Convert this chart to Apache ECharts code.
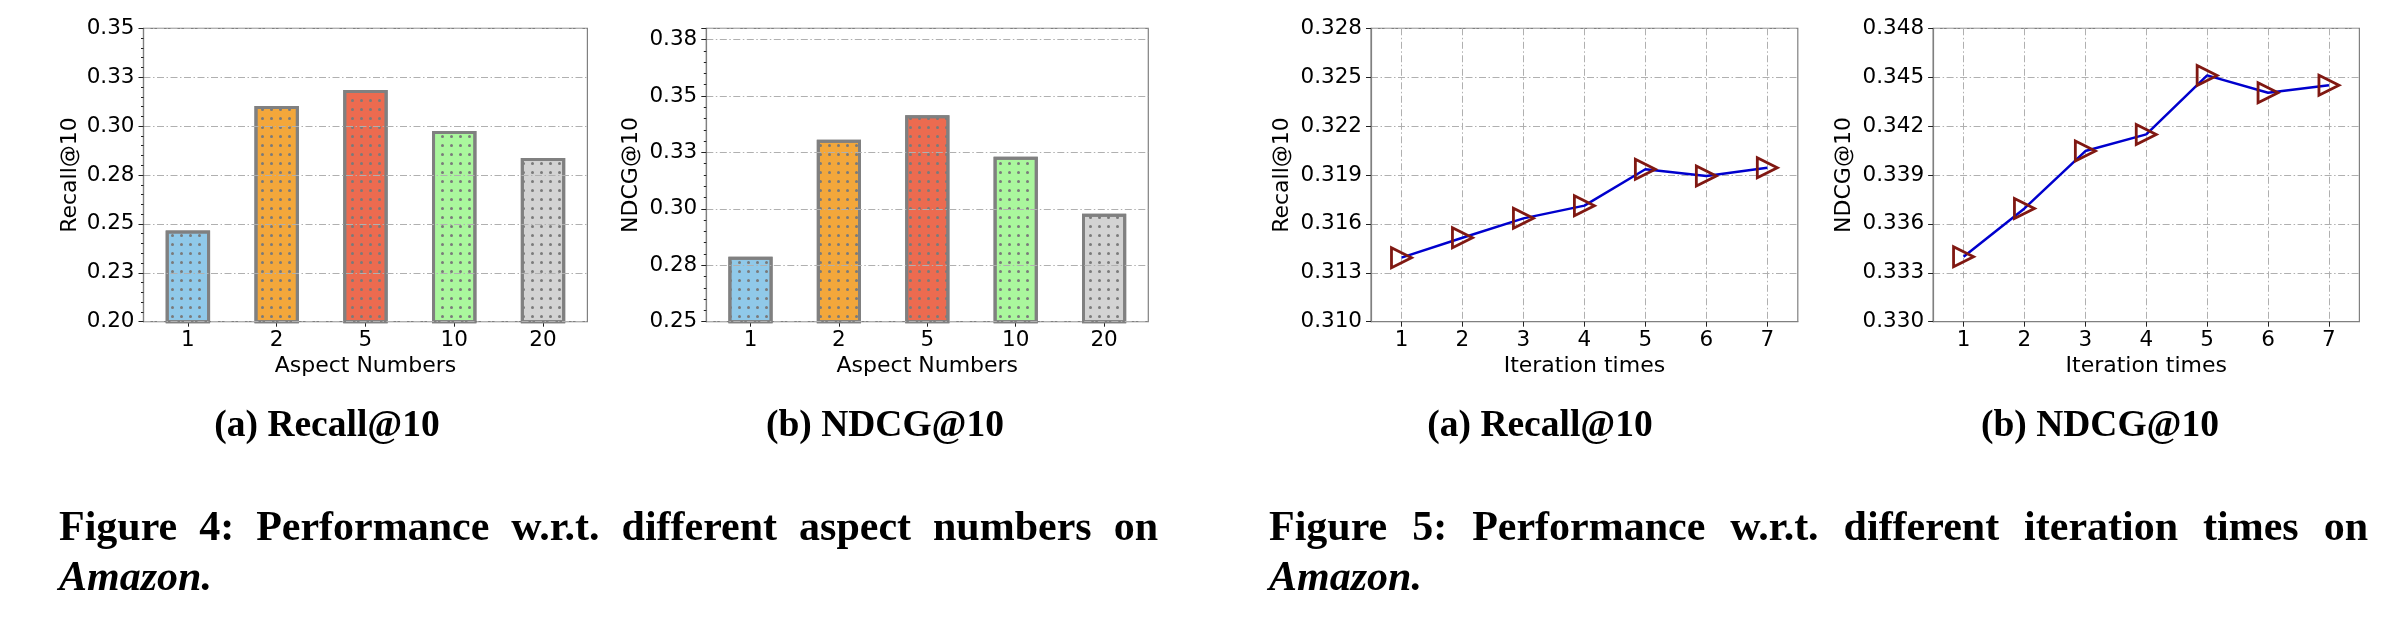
<!DOCTYPE html>
<html>
<head>
<meta charset="utf-8">
<script src="https://cdn.jsdelivr.net/npm/echarts@6/dist/echarts.min.js"></script>
<style>
  html, body { margin: 0; padding: 0; background: #fff; }
  #main { width: 2398px; height: 622px; }
</style>
</head>
<body>
<div id="main"></div>
<script>
// Figure 4: aspect numbers
var aspectNumbers = ['1', '2', '5', '10', '20'];
var aspectRecall = [0.2466, 0.3103, 0.3185, 0.2975, 0.2837];
var aspectNdcg = [0.2788, 0.3306, 0.3415, 0.3231, 0.2978];
var barColors = ['#90c9e9', '#f3a73b', '#ec6b50', '#aaf79d', '#d3d3d3'];

// Figure 5: iteration times
var iterTimes = ['1', '2', '3', '4', '5', '6', '7'];
var iterRecall = [0.31393, 0.31515, 0.31634, 0.31712, 0.31935, 0.31894, 0.31945];
var iterNdcg = [0.33399, 0.33695, 0.34047, 0.34149, 0.34511, 0.34405, 0.34450];

// tick labels (matplotlib rounded them to the shown digits)
var recallBarTicks = ['0.20', '0.23', '0.25', '0.28', '0.30', '0.33', '0.35'];
var ndcgBarTicks = ['0.25', '0.28', '0.30', '0.33', '0.35', '0.38'];
var recallLineTicks = ['0.310', '0.313', '0.316', '0.319', '0.322', '0.325', '0.328'];
var ndcgLineTicks = ['0.330', '0.333', '0.336', '0.339', '0.342', '0.345', '0.348'];

// captions
var subCaptions = ['(a) Recall@10', '(b) NDCG@10', '(a) Recall@10', '(b) NDCG@10'];
var fig4Words = ['Figure', '4:', 'Performance', 'w.r.t.', 'different', 'aspect', 'numbers', 'on'];
var fig5Words = ['Figure', '5:', 'Performance', 'w.r.t.', 'different', 'iteration', 'times', 'on'];
var captionTail = 'Amazon.';

var FONT = 'DejaVu Sans';
var SERIF = '"Liberation Serif", "Times New Roman", serif';
var gridDash = [7, 2.5, 1.5, 2.5];

var chart = echarts.init(document.getElementById('main'));

function tickLabel(labels, min, step) {
  return function (v) {
    var i = Math.round((v - min) / step);
    if (Math.abs(v - (min + i * step)) > step * 0.01) return '';
    return labels[i] !== undefined ? labels[i] : '';
  };
}

function yAxisCfg(idx, name, min, max, step, labels, gap, bar) {
  return {
    type: 'value', gridIndex: idx, min: min, max: max, interval: step,
    name: name, nameLocation: 'middle', nameGap: gap,
    nameTextStyle: { fontFamily: FONT, fontSize: 22, color: '#000' },
    axisLine: { show: true, lineStyle: { color: '#808080', width: 1.2 } },
    axisTick: { show: true, length: 5, lineStyle: { color: '#222', width: 1 } },
    minorTick: { show: bar, splitNumber: 5, length: 2.5, lineStyle: { color: '#222', width: 1 } },
    axisLabel: { fontFamily: FONT, fontSize: 21.5, color: '#000', margin: 9,
      formatter: tickLabel(labels, min, step) },
    splitLine: { show: true, lineStyle: { color: '#b0b0b0', width: 1, type: gridDash } },
    z: bar ? 3 : 0
  };
}

function xAxisCfg(idx, name, cats, bar) {
  return {
    type: 'category', gridIndex: idx, data: cats, boundaryGap: true,
    name: name, nameLocation: 'middle', nameGap: 34,
    nameTextStyle: { fontFamily: FONT, fontSize: 22, color: '#000' },
    axisLine: { show: true, lineStyle: { color: '#808080', width: 1.2 } },
    axisTick: { show: true, alignWithLabel: true, length: 5, lineStyle: { color: '#222', width: 1 } },
    axisLabel: { fontFamily: FONT, fontSize: 21.5, color: '#000', margin: 8, interval: 0 },
    splitLine: { show: !bar, alignWithLabel: true, interval: 0,
      lineStyle: { color: '#b0b0b0', width: 1, type: gridDash } }
  };
}

var dotDecal = {
  symbol: 'circle', symbolSize: 1, color: '#7a7a7a',
  dashArrayX: [2.2, 5.1], dashArrayY: [2.2, 5.1]
};

function barSeries(idx, values) {
  return {
    type: 'bar', xAxisIndex: idx, yAxisIndex: idx, barWidth: '50%', silent: true,
    data: values.map(function (v, i) {
      return { value: v, itemStyle: { color: barColors[i] } };
    }),
    itemStyle: { borderColor: '#808080', borderWidth: 3, decal: dotDecal }
  };
}

function lineSeries(idx, values) {
  return {
    type: 'line', xAxisIndex: idx, yAxisIndex: idx, data: values, silent: true,
    symbol: 'triangle', symbolRotate: -90, symbolSize: 20, showAllSymbol: true,
    lineStyle: { color: '#0000cd', width: 2.5 },
    itemStyle: { color: 'rgba(255,255,255,0)', borderColor: '#801812', borderWidth: 2.8 },
    z: 3
  };
}

// captions, laid out as text
var measureCtx = document.createElement('canvas').getContext('2d');
function textEl(str, x, baseline, size, align, italic) {
  return {
    type: 'text', x: x, y: baseline - 0.34 * size, silent: true,
    style: { text: str, fontFamily: SERIF, fontWeight: 'bold', fontStyle: italic ? 'italic' : 'normal',
      fontSize: size, fill: '#000', textAlign: align, textVerticalAlign: 'middle', verticalAlign: 'middle' }
  };
}
function justified(words, x0, x1, baseline, size) {
  measureCtx.font = 'bold ' + size + 'px ' + SERIF;
  var widths = words.map(function (w) { return measureCtx.measureText(w).width; });
  var total = widths.reduce(function (a, b) { return a + b; }, 0);
  var gap = (x1 - x0 - total) / (words.length - 1);
  var x = x0, out = [];
  words.forEach(function (w, i) {
    out.push(textEl(w, x, baseline, size, 'left', false));
    x += widths[i] + gap;
  });
  return out;
}

var subCenters = [327, 885, 1540, 2100];
var graphics = [];
subCaptions.forEach(function (t, i) {
  graphics.push(textEl(t, subCenters[i], 439, 37.5, 'center', false));
});
graphics = graphics.concat(justified(fig4Words, 59, 1158, 543, 42));
graphics = graphics.concat(justified(fig5Words, 1269, 2368, 543, 42));
graphics.push(textEl(captionTail, 59, 593, 42, 'left', true));
graphics.push(textEl(captionTail, 1269, 593, 42, 'left', true));

var gridBase = { top: 28.3, height: 293.4, show: true, borderColor: '#808080', borderWidth: 1.2,
  backgroundColor: 'transparent', containLabel: false };

chart.setOption({
  animation: false,
  backgroundColor: '#fff',
  grid: [
    Object.assign({ left: 143.5, width: 443.9 }, gridBase),
    Object.assign({ left: 706.3, width: 442 }, gridBase),
    Object.assign({ left: 1371, width: 426.8 }, gridBase),
    Object.assign({ left: 1933.1, width: 426.3 }, gridBase)
  ],
  xAxis: [
    xAxisCfg(0, 'Aspect Numbers', aspectNumbers, true),
    xAxisCfg(1, 'Aspect Numbers', aspectNumbers, true),
    xAxisCfg(2, 'Iteration times', iterTimes, false),
    xAxisCfg(3, 'Iteration times', iterTimes, false)
  ],
  yAxis: [
    yAxisCfg(0, 'Recall@10', 0.2, 0.35, 0.025, recallBarTicks, 62, true),
    yAxisCfg(1, 'NDCG@10', 0.25, 0.38, 0.025, ndcgBarTicks, 64, true),
    yAxisCfg(2, 'Recall@10', 0.310, 0.328, 0.003, recallLineTicks, 78, false),
    yAxisCfg(3, 'NDCG@10', 0.330, 0.348, 0.003, ndcgLineTicks, 78, false)
  ],
  series: [
    barSeries(0, aspectRecall),
    barSeries(1, aspectNdcg),
    lineSeries(2, iterRecall),
    lineSeries(3, iterNdcg)
  ],
  graphic: graphics
});
</script>
</body>
</html>
